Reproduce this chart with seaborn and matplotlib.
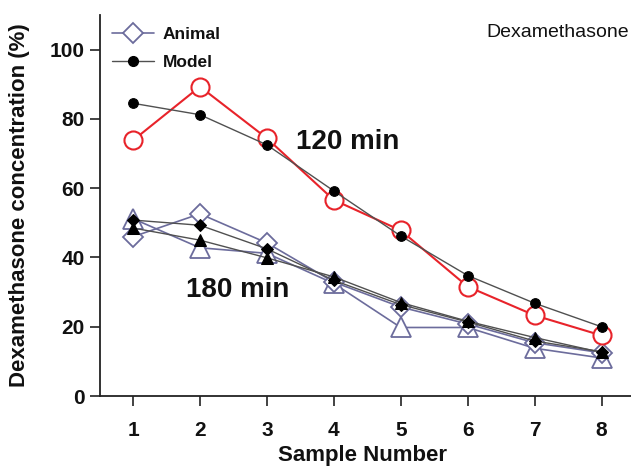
import numpy as np
import pandas as pd
import matplotlib
matplotlib.use("Agg")
import matplotlib.pyplot as plt
import seaborn as sns
from matplotlib.lines import Line2D

sns.set_theme(style="ticks")
plt.rcParams['font.family'] = ['Liberation Sans', 'DejaVu Sans']

samples = [1, 2, 3, 4, 5, 6, 7, 8]
# 120 min
animal_120 = [73.8, 89.3, 74.4, 56.6, 47.8, 31.6, 23.3, 17.5]
model_120 = [84.5, 81.2, 72.5, 59.2, 46.2, 34.8, 26.8, 20.0]
# 180 min
animal_180_diamond = [46.0, 52.6, 44.2, 32.9, 25.7, 20.8, 15.4, 12.5]
animal_180_triangle = [51.2, 42.8, 41.2, 32.5, 19.8, 19.8, 13.8, 11.0]
model_180_diamond = [50.8, 49.3, 42.5, 33.4, 26.4, 21.4, 15.9, 12.8]
model_180_triangle = [48.5, 45.0, 39.9, 34.4, 27.0, 21.6, 16.9, 12.6]

yticks = [0, 20, 40, 60, 80, 100]

SLATE = "#6c6c9c"
RED = "#e8232a"
GRAY = "#505050"
TXT = "#111111"

fig = plt.figure(figsize=(6.31, 4.66), dpi=100)
ax = fig.add_axes([0.1585, 0.150, 0.8415, 0.818])

def line(y, **kw):
    df = pd.DataFrame({"x": samples, "y": y})
    sns.lineplot(data=df, x="x", y="y", ax=ax, **kw)

# 180 min animal (open markers)
line(animal_180_triangle, color=SLATE, linewidth=1.2, marker="^", markersize=14,
     markerfacecolor="white", markeredgecolor=SLATE, markeredgewidth=1.3, zorder=2)
line(animal_180_diamond, color=SLATE, linewidth=1.2, marker="D", markersize=10,
     markerfacecolor="white", markeredgecolor=SLATE, markeredgewidth=1.3, zorder=2)
# 180 min model (filled black)
line(model_180_triangle, color=GRAY, linewidth=1.0, marker="^", markersize=8,
     markerfacecolor="black", markeredgecolor="black", zorder=3)
line(model_180_diamond, color=GRAY, linewidth=1.0, marker="D", markersize=6,
     markerfacecolor="black", markeredgecolor="black", zorder=3)
# 120 min
line(animal_120, color=RED, linewidth=1.5, marker="o", markersize=13,
     markerfacecolor="white", markeredgecolor=RED, markeredgewidth=1.5, zorder=2)
line(model_120, color=GRAY, linewidth=1.0, marker="o", markersize=7,
     markerfacecolor="black", markeredgecolor="black", zorder=3)

ax.set_xlim(0.507, 8.44)
ax.set_ylim(0, 110)
ax.set_xticks(samples)
ax.set_yticks(yticks)
ax.set_xticklabels([str(s) for s in samples], fontsize=15, fontweight="bold", color=TXT)
ax.set_yticklabels([str(t) for t in yticks], fontsize=15, fontweight="bold", color=TXT)
ax.tick_params(axis="both", direction="out", length=7, width=1.2, color="#222222", pad=4)
ax.tick_params(axis="x", pad=11)
for s in ["top", "right"]:
    ax.spines[s].set_visible(False)
for s in ["left", "bottom"]:
    ax.spines[s].set_color("#222222")
    ax.spines[s].set_linewidth(1.3)
ax.spines["left"].set_bounds(0, 110)

ax.set_xlabel("Sample Number", fontsize=16, fontweight="bold", color=TXT)
ax.set_ylabel("Dexamethasone concentration (%)", fontsize=16, fontweight="bold", color=TXT)
ax.xaxis.set_label_coords(0.495, -0.128)
ax.yaxis.set_label_coords(-0.132, 0.5)

ax.text(4.2, 73.4, "120 min", fontsize=20, fontweight="bold", ha="center", va="center", color=TXT)
ax.text(2.57, 30.6, "180 min", fontsize=20, fontweight="bold", ha="center", va="center", color=TXT)
ax.text(0.997, 0.953, "Dexamethasone", transform=ax.transAxes, fontsize=14,
        ha="right", va="center", color=TXT)

handles = [
    Line2D([], [], color=SLATE, linewidth=1.2, marker="D", markersize=10,
           markerfacecolor="white", markeredgecolor=SLATE, markeredgewidth=1.3),
    Line2D([], [], color=GRAY, linewidth=1.0, marker="o", markersize=7,
           markerfacecolor="black", markeredgecolor="black"),
]
leg = ax.legend(handles, ["Animal", "Model"], loc="upper left", bbox_to_anchor=(0.0, 1.0),
                frameon=False, prop={"weight": "bold", "size": 12.5}, handlelength=2.4,
                handletextpad=0.5, labelspacing=0.75, borderaxespad=0.3)
for t in leg.get_texts():
    t.set_color(TXT)

fig.savefig("out.png", dpi=100)
